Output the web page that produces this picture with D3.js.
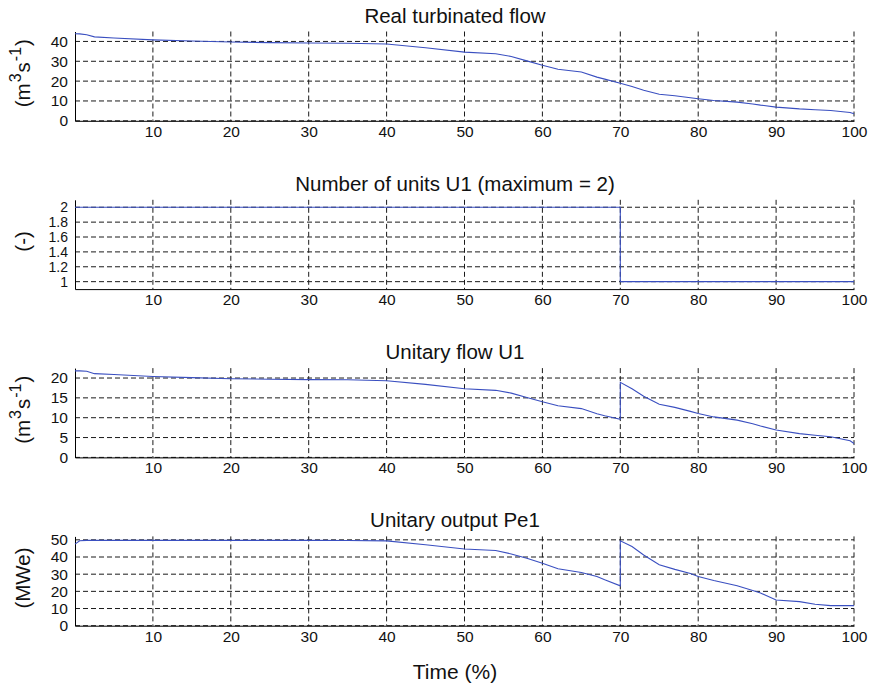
<!DOCTYPE html>
<html>
<head>
<meta charset="utf-8">
<script src="https://cdn.jsdelivr.net/npm/d3@7"></script>
<style>
  body { margin: 0; background: #fff; }
  svg { display: block; font-family: "Liberation Sans", Arial, Helvetica, sans-serif; }
</style>
</head>
<body>
<div class="chart"></div>
<script>
const width = 873;
const height = 687;

// Time (%) samples, 70 appears twice for the switch from 2 units to 1
const time = [0, 0.6, 1.5, 2.5, 5, 10, 15, 20, 25, 30, 35, 40, 45, 50, 54, 56, 58, 60, 62, 65,
  67, 68, 70, 70, 71.5, 73, 75, 77, 79, 80, 82, 85, 87, 88, 90, 93, 95, 97, 99.5, 100];

const realFlow = [43.9, 43.8, 43.4, 42.3, 41.7, 40.8, 40.2, 39.7, 39.4, 39.2, 39.1, 38.7, 36.8, 34.6, 33.8, 32.4, 30.2, 28, 26, 24.6,
  22, 21, 18.9, 18.9, 17.3, 15.4, 13.4, 12.6, 11.6, 11.1, 10.2, 9.4, 8.5, 7.9, 6.9, 6.0, 5.6, 5.2, 4.2, 3.5];

const units = [2, 2, 2, 2, 2, 2, 2, 2, 2, 2, 2, 2, 2, 2, 2, 2, 2, 2, 2, 2,
  2, 2, 2, 1, 1, 1, 1, 1, 1, 1, 1, 1, 1, 1, 1, 1, 1, 1, 1, 1];

const unitFlow = [21.8, 21.8, 21.7, 21.1, 20.9, 20.4, 20.1, 19.8, 19.7, 19.6, 19.55, 19.3, 18.4, 17.3, 16.9, 16.2, 15.1, 14, 13, 12.3,
  11, 10.5, 9.6, 18.9, 17.3, 15.4, 13.4, 12.6, 11.6, 11.05, 10.2, 9.4, 8.5, 7.9, 6.9, 6.0, 5.6, 5.2, 4.2, 3.5];

const unitOutput = [47.5, 49.5, 49.7, 49.7, 49.7, 49.7, 49.7, 49.7, 49.7, 49.7, 49.6, 49.4, 47.1, 44.7, 43.8, 41.8, 39.3, 36.4, 33.2, 31,
  28.6, 26.7, 23.2, 49.4, 46.1, 41.2, 35.5, 32.8, 30.4, 28.6, 26.3, 23.3, 20.5, 19, 15, 14, 12.5, 11.7, 11.7, 11.7];

const xTicks = [10, 20, 30, 40, 50, 60, 70, 80, 90, 100];

const panels = [
  { title: 'Real turbinated flow', values: realFlow, domain: [0, 45], ticks: [0, 10, 20, 30, 40], fmt: d3.format('d'), unit: 'flow', tickFont: 15.5 },
  { title: 'Number of units U1 (maximum = 2)', values: units, domain: [0.9, 2.1], ticks: [1, 1.2, 1.4, 1.6, 1.8, 2], fmt: d3.format('~g'), unit: '(-)', tickFont: 14 },
  { title: 'Unitary flow U1', values: unitFlow, domain: [0, 22.5], ticks: [0, 5, 10, 15, 20], fmt: d3.format('d'), unit: 'flow', tickFont: 15.5 },
  { title: 'Unitary output Pe1', values: unitOutput, domain: [0, 52], ticks: [0, 10, 20, 30, 40, 50], fmt: d3.format('d'), unit: '(MWe)', tickFont: 15.5 }
];

const left = 75;
const right = 854;
const panelTop = 31.5;
const panelStep = 168.3;
const panelHeight = 89.3;
const textX = 455;

const svg = d3.select('.chart')
  .append('svg')
  .attr('width', width)
  .attr('height', height);

const xScale = d3.scaleLinear().domain([0, 100]).range([left, right]);

panels.forEach((p, i) => {
  const top = panelTop + i * panelStep;
  const bottom = top + panelHeight;
  const yScale = d3.scaleLinear().domain(p.domain).range([bottom, top]);
  const g = svg.append('g');

  // grid
  g.append('g')
    .selectAll('line')
    .data(p.ticks)
    .enter()
    .append('line')
    .attr('x1', left)
    .attr('x2', right)
    .attr('y1', (d) => yScale(d))
    .attr('y2', (d) => yScale(d))
    .attr('stroke', '#1a1a1a')
    .attr('stroke-dasharray', '5,3');

  g.append('g')
    .selectAll('line')
    .data(xTicks)
    .enter()
    .append('line')
    .attr('x1', (d) => xScale(d))
    .attr('x2', (d) => xScale(d))
    .attr('y1', top)
    .attr('y2', bottom)
    .attr('stroke', '#1a1a1a')
    .attr('stroke-dasharray', '5,3');

  // axes
  const xAxis = d3.axisBottom(xScale).tickValues(xTicks).tickSize(0).tickPadding(5);
  g.append('g')
    .attr('transform', `translate(0, ${bottom})`)
    .call(xAxis)
    .call((a) => a.select('.domain').attr('stroke', '#000'))
    .selectAll('text')
    .attr('font-size', 15.5)
    .attr('fill', '#111');

  const yAxis = d3.axisLeft(yScale).tickValues(p.ticks).tickFormat(p.fmt).tickSize(0).tickPadding(7);
  g.append('g')
    .attr('transform', `translate(${left}, 0)`)
    .call(yAxis)
    .call((a) => a.select('.domain').attr('stroke', '#000'))
    .selectAll('text')
    .attr('font-size', p.tickFont)
    .attr('fill', '#111');

  // data line
  const line = d3.line()
    .x((d, j) => xScale(time[j]))
    .y((d) => yScale(d));

  g.append('path')
    .datum(p.values)
    .attr('d', line)
    .attr('fill', 'none')
    .attr('stroke', '#3a4fc0')
    .attr('stroke-width', 1.1);

  // title
  g.append('text')
    .attr('x', textX)
    .attr('y', top - 9)
    .attr('text-anchor', 'middle')
    .attr('font-size', 20.5)
    .attr('fill', '#111')
    .text(p.title);

  // y label
  const yl = g.append('text')
    .attr('transform', `translate(30, ${(top + bottom) / 2 - 3}) rotate(-90)`)
    .attr('text-anchor', 'middle')
    .attr('font-size', 20.5)
    .attr('fill', '#111');

  if (p.unit === 'flow') {
    yl.append('tspan').text('(m');
    yl.append('tspan').attr('font-size', 16).attr('dy', -9).attr('dx', 1).text('3');
    yl.append('tspan').attr('dy', 9).attr('dx', 1).text('s');
    yl.append('tspan').attr('font-size', 16).attr('dy', -9).attr('dx', 1).text('-1');
    yl.append('tspan').attr('dy', 9).attr('dx', 1).text(')');
  } else {
    yl.text(p.unit);
  }
});

svg.append('text')
  .attr('x', textX)
  .attr('y', 679)
  .attr('text-anchor', 'middle')
  .attr('font-size', 21)
  .attr('fill', '#111')
  .text('Time (%)');
</script>
</body>
</html>
